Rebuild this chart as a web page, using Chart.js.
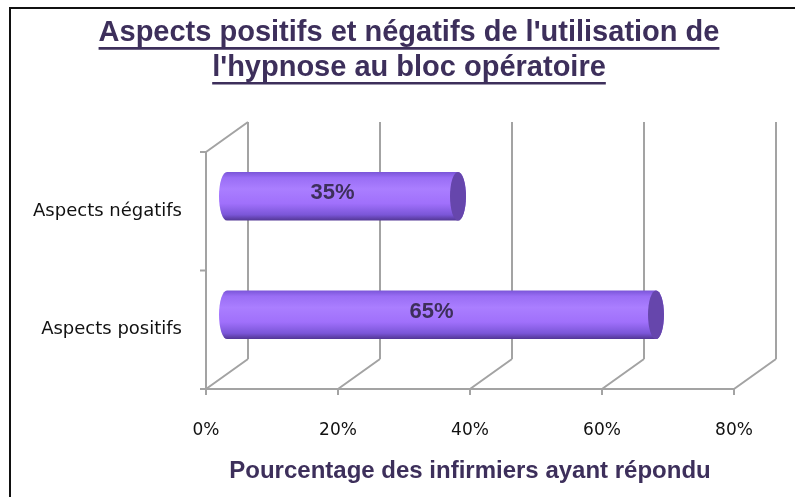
<!DOCTYPE html>
<html>
<head>
<meta charset="utf-8">
<script src="https://cdn.jsdelivr.net/npm/chart.js@4.4.1/dist/chart.umd.min.js"></script>
<style>
  html, body { margin: 0; padding: 0; background: #fff; }
  #wrap { position: relative; width: 795px; height: 497px; overflow: hidden; }
  #cadre { position: absolute; left: 9px; top: 7px; width: 900px; height: 600px;
           border-left: 2px solid #111; border-top: 2px solid #111; pointer-events: none; }
</style>
</head>
<body>
<div id="wrap">
  <canvas id="MiGrafico"></canvas>
  <div id="cadre"></div>
</div>
<script>
// donnees
const categories = ['Aspects négatifs', 'Aspects positifs'];
const pourcentages = [35, 65];
const graduations = [0, 20, 40, 60, 80];

const titre = ["Aspects positifs et négatifs de l'utilisation de", "l'hypnose au bloc opératoire"];
const titreAxe = 'Pourcentage des infirmiers ayant répondu';

const violetFonce = '#3d2f5b';
const gris = '#a3a3a3';
const profX = 42, profY = -30; // profondeur 3D

// cadre 3D : murs et sol
const cadre3D = {
    id: 'cadre3D',
    afterLayout(chart) {
        // le titre est centre un peu plus a droite
        chart.titleBlock.left = 84;
        chart.titleBlock.right = 734;
        chart.titleBlock.width = 650;
    },
    beforeDatasetsDraw(chart) {
        const ctx = chart.ctx;
        const xs = chart.scales.x, ys = chart.scales.y;
        const top = ys.top, bottom = ys.bottom, left = xs.left;
        ctx.save();
        ctx.strokeStyle = gris;
        ctx.lineWidth = 2;
        ctx.beginPath();
        graduations.forEach(v => {
            const px = xs.getPixelForValue(v);
            ctx.moveTo(px + profX, top + profY);
            ctx.lineTo(px + profX, bottom + profY);
            ctx.moveTo(px, bottom);
            ctx.lineTo(px + profX, bottom + profY);
            ctx.moveTo(px, bottom);
            ctx.lineTo(px, bottom + 6);
        });
        ctx.moveTo(left, bottom);
        ctx.lineTo(xs.right, bottom);
        ctx.moveTo(left, top);
        ctx.lineTo(left, bottom);
        ctx.moveTo(left, top);
        ctx.lineTo(left + profX, top + profY);
        const mid = (ys.getPixelForValue(0) + ys.getPixelForValue(1)) / 2;
        [top, mid, bottom].forEach(y => {
            ctx.moveTo(left - 6, y);
            ctx.lineTo(left, y);
        });
        ctx.stroke();
        ctx.restore();
    },
    afterDatasetsDraw(chart) {
        const ctx = chart.ctx;
        const meta = chart.getDatasetMeta(0);
        const dx = profX / 2, dy = profY / 2;
        meta.data.forEach((bar, i) => {
            const p = bar.getProps(['x', 'y', 'base', 'height'], true);
            const x0 = p.base + dx, x1 = p.x + dx, cy = p.y + dy;
            const ry = p.height / 2, rx = 8;
            const g = ctx.createLinearGradient(0, cy - ry, 0, cy + ry);
            g.addColorStop(0, '#7a55d8');
            g.addColorStop(0.12, '#9a6ef5');
            g.addColorStop(0.35, '#aa7eff');
            g.addColorStop(0.65, '#a070fb');
            g.addColorStop(0.88, '#7b56d8');
            g.addColorStop(1, '#523694');
            ctx.save();
            ctx.beginPath();
            ctx.moveTo(x0, cy - ry);
            ctx.lineTo(x1, cy - ry);
            ctx.ellipse(x1, cy, rx, ry, 0, -Math.PI / 2, Math.PI / 2);
            ctx.lineTo(x0, cy + ry);
            ctx.ellipse(x0, cy, rx, ry, 0, Math.PI / 2, Math.PI * 1.5);
            ctx.closePath();
            ctx.fillStyle = g;
            ctx.fill();
            ctx.beginPath();
            ctx.ellipse(x1, cy, rx, ry, 0, 0, Math.PI * 2);
            ctx.fillStyle = '#6646ac';
            ctx.fill();
            ctx.font = 'bold 22px "Liberation Sans", Arial, sans-serif';
            ctx.fillStyle = violetFonce;
            ctx.textAlign = 'center';
            ctx.textBaseline = 'middle';
            ctx.fillText(pourcentages[i] + '%', (p.base + p.x) / 2 + 11, cy - 3);
            ctx.restore();
        });
    },
    afterDraw(chart) {
        // soulignement du titre
        const tb = chart.titleBlock;
        const opts = tb.options;
        const ctx = chart.ctx;
        const lh = opts.font.size * opts.font.lineHeight;
        ctx.save();
        ctx.font = 'bold ' + opts.font.size + 'px ' + opts.font.family;
        ctx.strokeStyle = violetFonce;
        ctx.lineWidth = 2.6;
        titre.forEach((t, i) => {
            const w = ctx.measureText(t).width;
            const tx = (tb.left + tb.right) / 2;
            const y = tb.top + opts.padding.top + lh * (i + 0.5) + 15;
            ctx.beginPath();
            ctx.moveTo(tx - w / 2, y);
            ctx.lineTo(tx + w / 2, y);
            ctx.stroke();
        });
        ctx.restore();
    }
};

let miCanvas = document.getElementById('MiGrafico').getContext('2d');

const myChart = new Chart(miCanvas, {
    type: 'bar',
    data: {
        labels: categories,
        datasets: [{
            label: 'Aspects',
            data: pourcentages,
            backgroundColor: 'rgba(0,0,0,0)',
            borderWidth: 0,
            barPercentage: 0.41,
            categoryPercentage: 1
        }]
    },
    options: {
        indexAxis: 'y',
        responsive: true,
        maintainAspectRatio: false,
        animation: false,
        layout: { padding: { left: 0, right: 61, top: 0, bottom: 0 } },
        plugins: {
            legend: { display: false },
            tooltip: { enabled: false },
            title: {
                display: true,
                text: titre,
                color: violetFonce,
                font: { family: '"Liberation Sans", Arial, sans-serif', size: 29, weight: 'bold', lineHeight: 1.2 },
                padding: { top: 16, bottom: 66.4 }
            }
        },
        scales: {
            x: {
                min: 0,
                max: 80,
                grid: { display: false },
                border: { display: false },
                ticks: {
                    stepSize: 20,
                    padding: 23,
                    color: '#111',
                    font: { family: '"DejaVu Sans"', size: 17 },
                    callback: v => v + '%'
                },
                title: {
                    display: true,
                    text: titreAxe,
                    color: violetFonce,
                    font: { family: '"Liberation Sans", Arial, sans-serif', size: 24, weight: 'bold', lineHeight: 1.2 },
                    padding: { top: 0, bottom: 11 }
                },
                afterFit: s => { s.height = 108; }
            },
            y: {
                grid: { display: false },
                border: { display: false },
                ticks: {
                    padding: 16,
                    color: '#111',
                    font: { family: '"DejaVu Sans"', size: 18 }
                },
                afterFit: s => { s.width = 206; }
            }
        }
    },
    plugins: [cadre3D]
});
</script>
</body>
</html>
